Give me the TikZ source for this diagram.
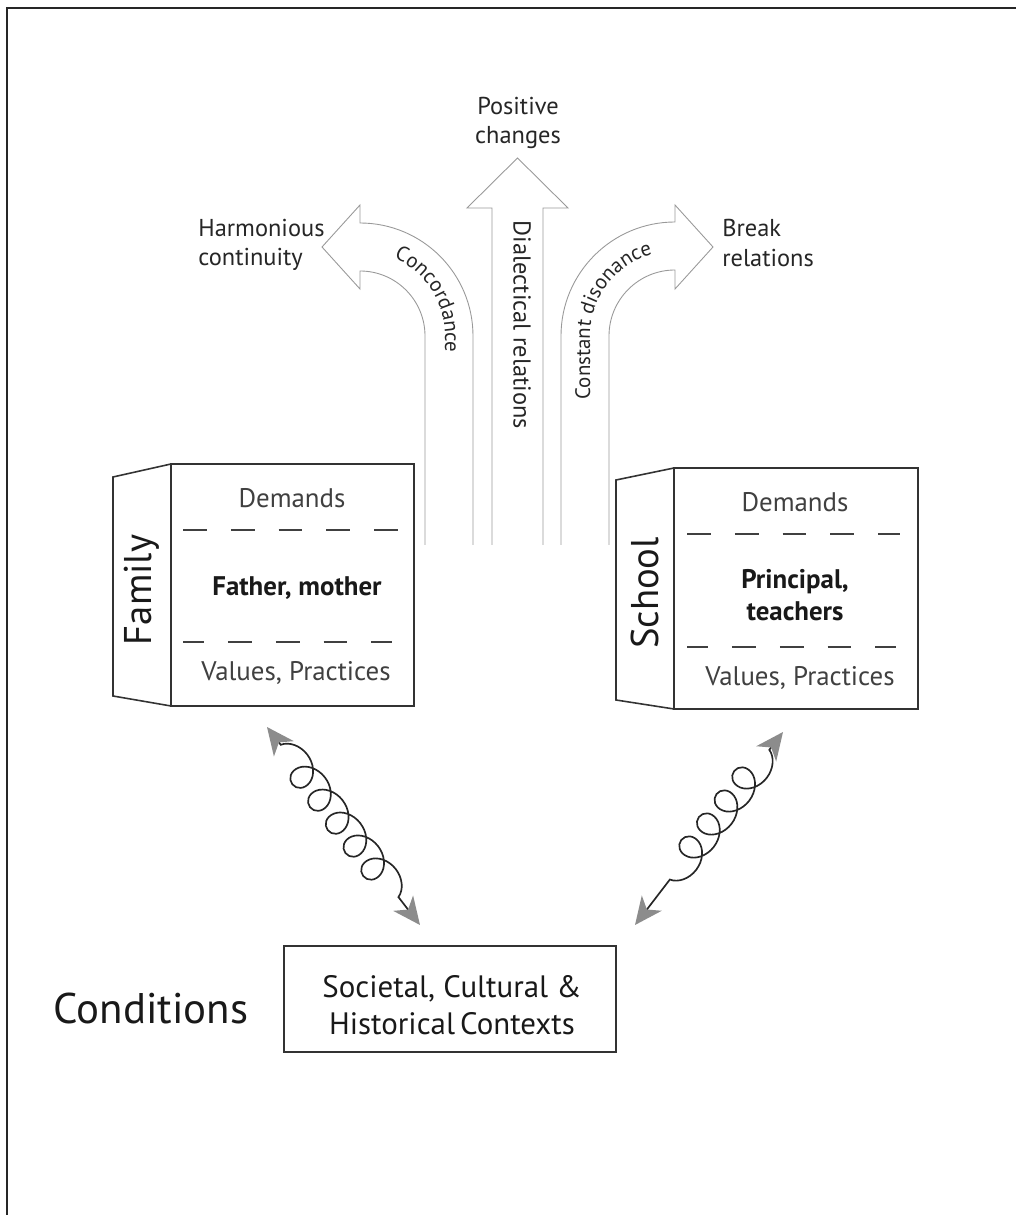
\documentclass[tikz,border=0pt]{standalone}
\usepackage{fontspec}
\setmainfont{PT Sans}
\usetikzlibrary{arrows.meta,decorations.pathmorphing,decorations.text}

\newcommand{\fsz}[1]{\fontsize{#1}{1.2\dimexpr #1pt\relax}\selectfont}

\tikzset{grayhead/.tip={Stealth[length=0.55cm, width=0.5cm, inset=0.16cm, color=black!45]}}

\begin{document}
\begin{tikzpicture}[x=0.02cm,y=0.02cm,
  frameline/.style={line width=1.2pt, draw=black!85},
  boxline/.style={line width=0.9pt, draw=black!80},
  sepdash/.style={line width=0.8pt, draw=black!75, dash pattern=on 13.6pt off 13.6pt},
  bigarrow/.style={draw=black!40, line width=0.5pt, fill=white, line join=miter},
  outlabel/.style={font=\fsz{13.9}, text=black!85, inner sep=0pt},
  boxtext/.style={font=\fsz{15.3}, text=black!75, inner sep=0pt},
  boxbold/.style={font=\fsz{15.3}\bfseries, text=black!90, inner sep=0pt, align=center},
  sidetext/.style={font=\fsz{22}, text=black!90, inner sep=0pt},
  springlink/.style={draw=black!85, line width=0.95pt, grayhead-grayhead,
    decorate, decoration={coil, amplitude=0.3cm, segment length=0.58cm, aspect=1.1,
      pre length=0.45cm, post length=0.6cm}}
]
% page and open frame
\useasboundingbox[fill=white] (0,0) rectangle (1016,1215);
\draw[frameline] (7,0) -- (7,1207) -- (1016,1207);

% outline arrows
\draw[bigarrow] (425,670) -- (425,879) arc[start angle=0, end angle=90, radius=65]
  -- (360,926) -- (322,968) -- (360,1010) -- (360,992)
  arc[start angle=90, end angle=0, radius=113] -- (473,670);
\draw[bigarrow] (492,670) -- (492,1007) -- (467,1007) -- (517.5,1057)
  -- (568,1007) -- (543,1007) -- (543,670);
\draw[bigarrow] (609,670) -- (609,879) arc[start angle=180, end angle=90, radius=66]
  -- (675,926) -- (713,968) -- (675,1010) -- (675,993)
  arc[start angle=90, end angle=180, radius=114] -- (561,670);

% labels along the arrows
\path[decorate, decoration={text along path, text align=center,
    text={|\fsz{11.9}\color{black!85}|Concordance}}]
  (382,961.1) arc[start angle=75, end angle=0, radius=85] -- (445,850);
\path[decorate, decoration={text along path, text align=center,
    text={|\fsz{11.9}\color{black!85}|Constant disonance}}]
  (590,800) -- (590,879) arc[start angle=180, end angle=95, radius=85];
\node[outlabel, rotate=-90] (dial) at (522,890) {Dialectical relations};

% outcomes
\node[outlabel, align=center] (pos) at (518,1092) {Positive\\changes};
\node[outlabel, align=left, anchor=west] (harm) at (198,970) {Harmonious\\continuity};
\node[outlabel, align=left, anchor=west] (brk) at (722,972) {Break\\relations};

% family block
\draw[boxline] (171,509) rectangle (414,751);
\draw[boxline] (171,751) -- (113,738) -- (113,519) -- (171,509);
\draw[sepdash] (183,685) -- (398,685);
\draw[sepdash, dash phase=1.6pt] (183,573) -- (392,573);
\node[sidetext, rotate=90] (family) at (142,625) {Family};
\node[boxtext] (famdem) at (292,717) {Demands};
\node[boxbold] (fampar) at (297,627) {Father, mother};
\node[boxtext] (famval) at (296,542) {Values, Practices};

% school block
\draw[boxline] (674,506) rectangle (918,747);
\draw[boxline] (674,747) -- (616,735) -- (616,515) -- (674,506);
\draw[sepdash] (687,681) -- (900,681);
\draw[sepdash, dash phase=1.6pt] (687,568) -- (896,568);
\node[sidetext, rotate=90] (school) at (645,622) {School};
\node[boxtext] (schdem) at (795,713) {Demands};
\node[boxbold] (schstaff) at (795,620) {Principal,\\teachers};
\node[boxtext] (schval) at (800,537) {Values, Practices};

% contexts
\node[draw=black!80, line width=0.9pt, minimum width=332*0.02cm, minimum height=106*0.02cm,
  inner sep=0pt] (ctx) at (450,216) {};
\node[font=\fsz{17.6}, text=black!90, align=center, inner sep=0pt] (ctxtext) at (452,210)
  {Societal, Cultural \&\\Historical\,Contexts};
\node[font=\fsz{24.4}, text=black!90, inner sep=0pt] (cond) at (151,207) {Conditions};

% spring links between blocks and contexts
\coordinate (famA) at (267,488);
\coordinate (famB) at (420,290);
\coordinate (schA) at (783,483);
\coordinate (schB) at (635,290);
\draw[springlink] (famA) -- (famB);
\draw[springlink] (schA) -- (schB);
\end{tikzpicture}
\end{document}
